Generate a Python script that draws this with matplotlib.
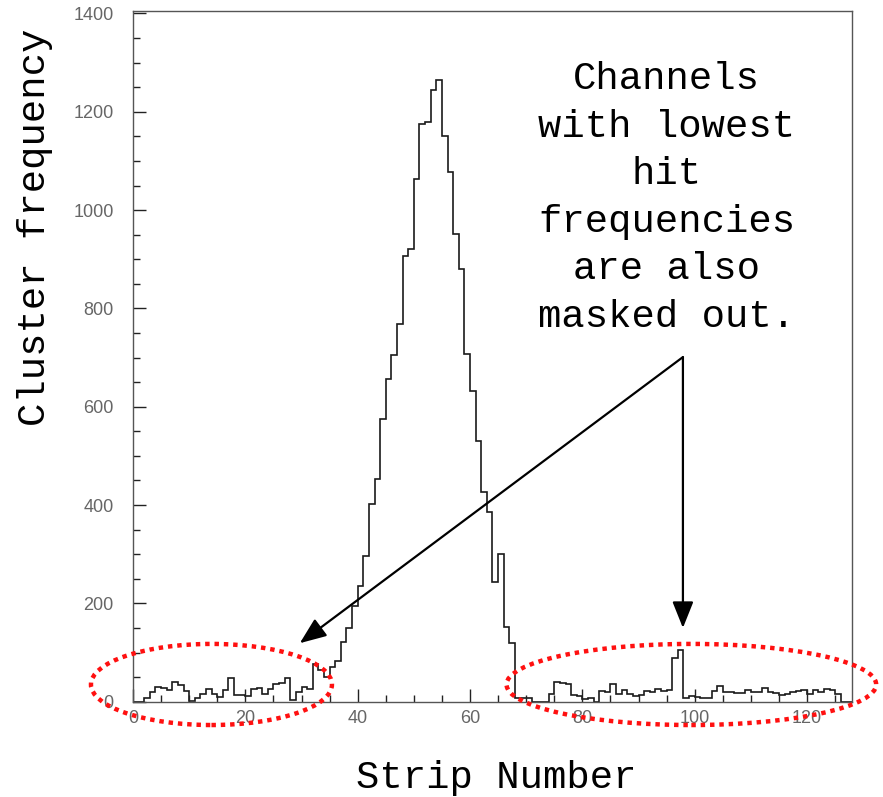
import matplotlib
matplotlib.use('Agg')
import matplotlib.pyplot as plt
from matplotlib.patches import Ellipse
from matplotlib.ticker import MultipleLocator
import numpy as np

# cluster counts per strip (128 strips)
counts = [0, 0, 8, 20, 30, 28, 23, 41, 33, 21,
          1, 8, 16, 26, 16, 10, 23, 49, 13, 13,
          11, 26, 28, 16, 25, 35, 39, 49, 3, 20,
          30, 25, 76, 65, 50, 70, 82, 122, 149, 195,
          236, 297, 402, 453, 575, 657, 705, 768, 906, 921,
          1064, 1176, 1180, 1245, 1265, 1151, 1077, 951, 880, 708,
          631, 530, 427, 385, 244, 300, 152, 119, 8, 8,
          8, 0, 0, 0, 16, 40, 38, 35, 13, 11,
          6, 8, 0, 22, 20, 35, 15, 23, 15, 11,
          13, 22, 20, 25, 22, 24, 88, 106, 8, 11,
          9, 8, 8, 21, 31, 20, 20, 18, 18, 23,
          20, 20, 28, 20, 18, 13, 16, 20, 22, 24,
          15, 24, 20, 26, 23, 15, 0, 0]
strip_edges = np.arange(len(counts) + 1)

xticks = [0, 20, 40, 60, 80, 100, 120]
yticks = [0, 200, 400, 600, 800, 1000, 1200, 1400]

note = "Channels\nwith lowest\nhit\nfrequencies\nare also\nmasked out."

mono = ['Liberation Mono', 'DejaVu Sans Mono']


def main():
    fig = plt.figure(figsize=(8.83, 7.97), dpi=100)
    ax = fig.add_axes([0.1506, 0.1196, 0.8143, 0.8666])

    ax.stairs(counts, strip_edges, color='#1a1a1a', lw=1.2)
    ax.set_xlim(0, 128)
    ax.set_ylim(0, 1405)

    ax.set_xticks(xticks)
    ax.set_yticks(yticks)
    ax.xaxis.set_minor_locator(MultipleLocator(5))
    ax.yaxis.set_minor_locator(MultipleLocator(50))
    ax.tick_params(which='both', direction='in', top=False, right=False,
                   color='#222222', labelcolor='#666666', labelsize=13,
                   labelfontfamily='Liberation Sans')
    ax.tick_params(which='major', length=9.5, width=1.0)
    ax.tick_params(which='minor', length=5, width=1.0)
    ax.tick_params(axis='y', pad=14)
    ax.tick_params(axis='x', pad=6)
    for s in ax.spines.values():
        s.set_color('#555555')
        s.set_linewidth(1.0)

    ax.set_xlabel('Strip Number', fontsize=28, family=mono, va='center')
    ax.set_ylabel('Cluster frequency', fontsize=28, family=mono, va='center')
    ax.xaxis.set_label_coords(0.505, -0.110)
    ax.yaxis.set_label_coords(-0.136, 0.687)

    # dotted rings round the low-count regions
    for cx, cy, w, h in [(13.97, 35, 42.9, 165), (99.4, 35, 65.8, 165)]:
        ax.add_patch(Ellipse((cx, cy), w, h, fill=False, ec='#ff1010',
                             lw=3.2, ls=(0, (1, 1.1)), clip_on=False, zorder=5))

    ax.text(95.0, 1025, note, ha='center', va='center', fontsize=28,
            family=mono, linespacing=1.41, multialignment='center')

    start = (97.9, 701)
    for tip in [(29.7, 119), (97.9, 150)]:
        ax.annotate('', xy=tip, xytext=start,
                    arrowprops=dict(arrowstyle='-|>,head_length=0.9,head_width=0.36',
                                    mutation_scale=18, lw=1.6, color='black',
                                    shrinkA=0, shrinkB=0))

    fig.savefig('out.png', dpi=100)


if __name__ == '__main__':
    main()
